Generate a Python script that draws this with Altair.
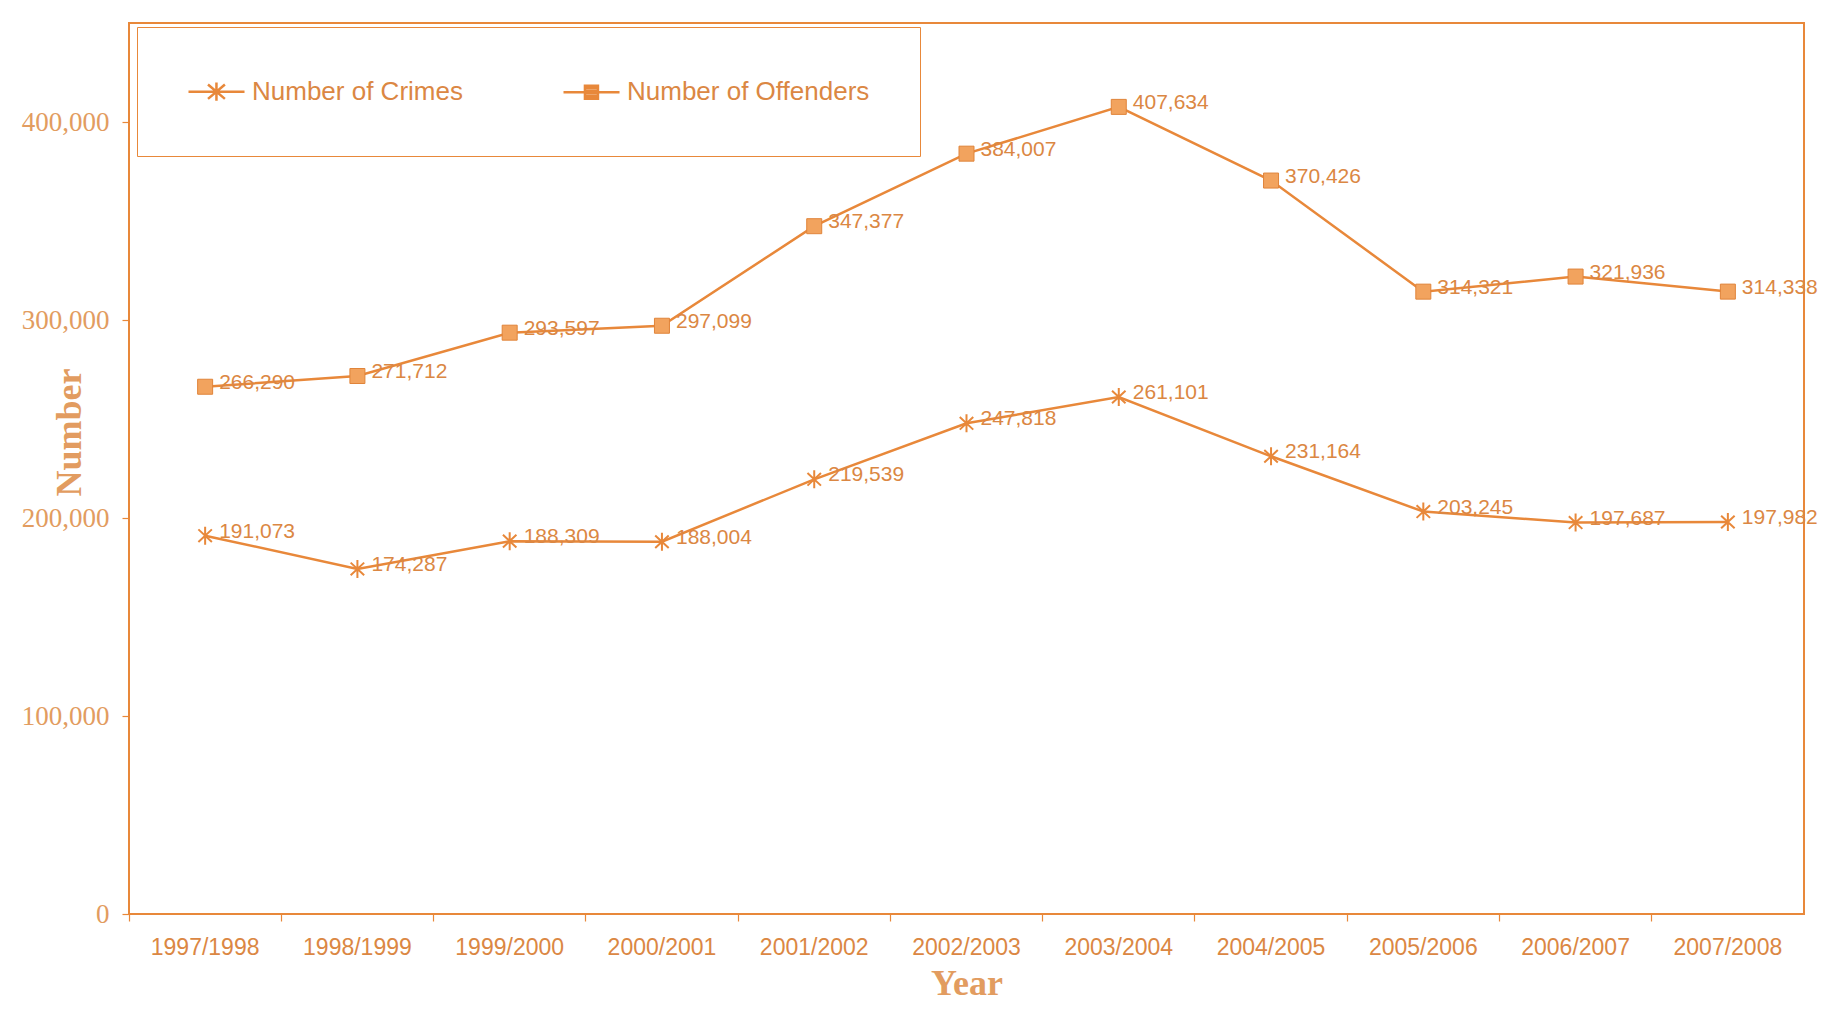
import altair as alt
import pandas as pd

years = ["1997/1998", "1998/1999", "1999/2000", "2000/2001", "2001/2002", "2002/2003",
         "2003/2004", "2004/2005", "2005/2006", "2006/2007", "2007/2008"]
crimes = [191073, 174287, 188309, 188004, 219539, 247818, 261101, 231164, 203245, 197687, 197982]
offenders = [266290, 271712, 293597, 297099, 347377, 384007, 407634, 370426, 314321, 321936, 314338]
series_names = ["Number of Crimes", "Number of Offenders"]
y_ticks = [0, 100000, 200000, 300000, 400000]

rows = []
for i, yr in enumerate(years):
    rows.append({"year": yr, "series": series_names[0], "value": crimes[i], "label": f"{crimes[i]:,}"})
    rows.append({"year": yr, "series": series_names[1], "value": offenders[i], "label": f"{offenders[i]:,}"})
df = pd.DataFrame(rows)

ORANGE = "#E8883A"
SQ_FILL = "#F2A35E"
TEXT = "#DB8743"
AXIS_TXT = "#E29C60"

STAR = "M0,-1L0,1M-0.75,-0.7L0.75,0.7M-0.75,0.7L0.75,-0.7"
LEG_STAR = "M-1,0L3.31,0M1.15,-0.7L1.15,0.7M0.5,-0.55L1.8,0.55M0.5,0.55L1.8,-0.55"
LEG_SQ = ("M-1,0L3.31,0M0.65,-0.5L1.65,-0.5L1.65,0.5L0.65,0.5Z"
          "M0.65,-0.3L1.65,-0.3M0.65,-0.1L1.65,-0.1M0.65,0.1L1.65,0.1M0.65,0.3L1.65,0.3")

x = alt.X("year:N", sort=years,
          scale=alt.Scale(type="band", paddingInner=0, paddingOuter=0),
          axis=alt.Axis(title="Year", bandPosition=0, labelAngle=0,
                        labelFont="Liberation Sans", labelFontSize=23, labelColor=TEXT,
                        tickColor=ORANGE, tickSize=7, tickWidth=1.2, labelPadding=15,
                        domain=False, titleFont="Liberation Serif", titleFontSize=36,
                        titleFontWeight="bold", titleColor=AXIS_TXT,
                        titleY=80, titleBaseline="alphabetic"))
y = alt.Y("value:Q", scale=alt.Scale(domain=[0, 450000], nice=False),
          axis=alt.Axis(values=y_ticks, format=",.0f", title="Number", grid=False,
                        labelFont="Liberation Serif", labelFontSize=27, labelColor=AXIS_TXT,
                        tickColor=ORANGE, tickSize=7, tickWidth=1.2, labelPadding=13,
                        domain=False, titleFont="Liberation Serif", titleFontSize=36,
                        titleFontWeight="bold", titleColor=AXIS_TXT, titleAngle=270,
                        titleX=-60, titleY=409, titleAlign="center", titleBaseline="middle"))

base = alt.Chart(df).encode(x=x, y=y)

lines = base.mark_line(color=ORANGE, strokeWidth=2.5).encode(detail="series:N")
crime_pts = base.transform_filter(alt.datum.series == series_names[0]).mark_point(
    shape=STAR, size=324, color=ORANGE, strokeWidth=2, filled=False, opacity=1)
off_pts = base.transform_filter(alt.datum.series == series_names[1]).mark_point(
    shape="square", size=225, filled=True, fill=SQ_FILL, stroke="#E0843A",
    strokeWidth=1, opacity=1)
labels = base.mark_text(align="left", baseline="middle", dx=14, dy=-4, fontSize=21,
                        font="Liberation Sans", color=TEXT).encode(text="label:N")
legend_layer = base.mark_point(opacity=0, filled=False, color=ORANGE).encode(
    shape=alt.Shape("series:N",
                    scale=alt.Scale(domain=series_names, range=[LEG_STAR, LEG_SQ]),
                    legend=alt.Legend(orient="none", legendX=8, legendY=4,
                                      direction="horizontal", title=None,
                                      symbolSize=676, symbolStrokeWidth=2.5,
                                      symbolStrokeColor=ORANGE,
                                      symbolOpacity=1, labelFont="Liberation Sans",
                                      labelFontSize=26, labelColor=TEXT, labelOffset=36,
                                      labelLimit=400, columnPadding=95, padding=50,
                                      strokeColor=ORANGE, fillColor="white")))

chart = alt.layer(lines, crime_pts, off_pts, labels, legend_layer).properties(
    width=1675, height=891,
    autosize=alt.AutoSizeParams(type="none"),
    padding={"left": 121, "top": 15, "right": 15, "bottom": 90},
    background="white",
).configure_view(stroke=ORANGE, strokeWidth=2)

chart.save("out.html", embed_options={"renderer": "svg", "actions": False})
